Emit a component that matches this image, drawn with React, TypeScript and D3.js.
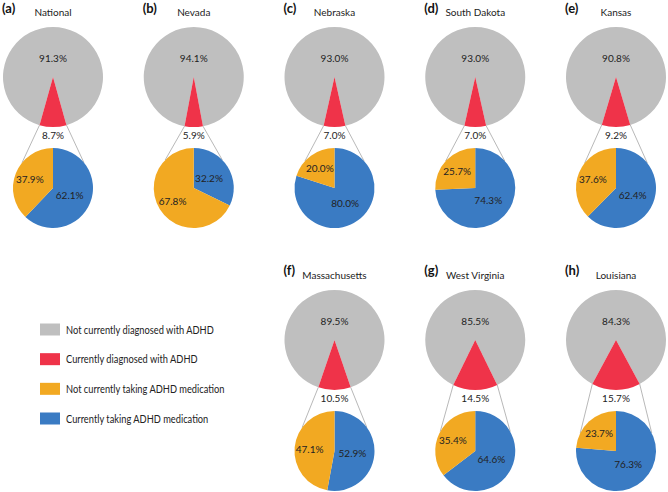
import React from "react";
import * as d3 from "d3";

const letters = ["(a)", "(b)", "(c)", "(d)", "(e)", "(f)", "(g)", "(h)"];
const regions = ["National", "Nevada", "Nebraska", "South Dakota", "Kansas", "Massachusetts", "West Virginia", "Louisiana"];
const notDiagnosed = [91.3, 94.1, 93.0, 93.0, 90.8, 89.5, 85.5, 84.3];
const diagnosed = [8.7, 5.9, 7.0, 7.0, 9.2, 10.5, 14.5, 15.7];
const notMedicated = [37.9, 67.8, 20.0, 25.7, 37.6, 47.1, 35.4, 23.7];
const medicated = [62.1, 32.2, 80.0, 74.3, 62.4, 52.9, 64.6, 76.3];
const gridCol = [0, 1, 2, 3, 4, 2, 3, 4];
const gridRow = [0, 0, 0, 0, 0, 1, 1, 1];
const legendLabels = [
  "Not currently diagnosed with ADHD",
  "Currently diagnosed with ADHD",
  "Not currently taking ADHD medication",
  "Currently taking ADHD medication",
];

const COLORS = ["#BFBFBF", "#EF3349", "#F2A922", "#3A7BC3"];
const FONT = "Lato, 'Open Sans', sans-serif";

const W = 668;
const H = 492;
const R = 50;
const r = 40;

const xCol = d3.scaleLinear().domain([0, 4]).range([53, 616]);
const yRow = d3.scaleLinear().domain([0, 1]).range([77, 340]);
const SMALL_DY = 111;

function Panel({ i }: { i: number }) {
  const cx = xCol(gridCol[i]);
  const cy = yRow(gridRow[i]);
  const sy = cy + SMALL_DY;
  const total = notDiagnosed[i] + diagnosed[i];
  const p = diagnosed[i] / total;
  const half = p * Math.PI;

  const bigArc = d3.arc<any>().innerRadius(0).outerRadius(R);
  const smallArc = d3.arc<any>().innerRadius(0).outerRadius(r);

  const redStart = Math.PI - half;
  const redEnd = Math.PI + half;

  const medFrac = medicated[i] / (medicated[i] + notMedicated[i]);
  const blueEnd = medFrac * 2 * Math.PI;

  const conn = (sign: number) => {
    const a0 = Math.PI + sign * half;
    const x0 = cx + R * Math.sin(a0);
    const y0 = cy - R * Math.cos(a0);
    const a1 = sign * -((35 * Math.PI) / 180 + half);
    const x1 = cx + r * Math.sin(a1);
    const y1 = sy - r * Math.cos(a1);
    return { x0, y0, x1, y1 };
  };
  const lines = [conn(-1), conn(1)];

  const blueMid = blueEnd / 2;
  const orangeMid = (blueEnd + 2 * Math.PI) / 2;
  const blR = 18;
  const orR = 25;
  const fs = 10;

  return (
    <g>
      <text x={cx - 51} y={gridRow[i] === 0 ? 8 : 270} fontFamily={FONT} fontWeight="bold" fontSize={13} dominantBaseline="central" fill="#111">
        {letters[i]}
      </text>
      <text x={cx} y={cy - 65} fontFamily={FONT} fontSize={10} textAnchor="middle" dominantBaseline="central" fill="#222">
        {regions[i]}
      </text>
      <g transform={`translate(${cx},${cy})`}>
        <path d={bigArc({ startAngle: redEnd, endAngle: redStart + 2 * Math.PI }) as string} fill={COLORS[0]} />
        <path d={bigArc({ startAngle: redStart, endAngle: redEnd }) as string} fill={COLORS[1]} />
      </g>
      {lines.map((l, k) => (
        <line key={k} x1={l.x0} y1={l.y0} x2={l.x1} y2={l.y1} stroke="#A6A6A6" strokeWidth={0.8} />
      ))}
      <g transform={`translate(${cx},${sy})`}>
        <path d={smallArc({ startAngle: 0, endAngle: blueEnd }) as string} fill={COLORS[3]} />
        <path d={smallArc({ startAngle: blueEnd, endAngle: 2 * Math.PI }) as string} fill={COLORS[2]} />
      </g>
      <text x={cx} y={cy - 19} fontFamily={FONT} fontSize={fs} textAnchor="middle" dominantBaseline="central" fill="#222">
        {notDiagnosed[i].toFixed(1)}%
      </text>
      <text x={cx} y={cy + 58} fontFamily={FONT} fontSize={fs} textAnchor="middle" dominantBaseline="central" fill="#222">
        {diagnosed[i].toFixed(1)}%
      </text>
      <text x={cx + blR * Math.sin(blueMid)} y={sy - blR * Math.cos(blueMid)} fontFamily={FONT} fontSize={fs} textAnchor="middle" dominantBaseline="central" fill="#222">
        {medicated[i].toFixed(1)}%
      </text>
      <text x={cx + orR * Math.sin(orangeMid)} y={sy - orR * Math.cos(orangeMid)} fontFamily={FONT} fontSize={fs} textAnchor="middle" dominantBaseline="central" fill="#222">
        {notMedicated[i].toFixed(1)}%
      </text>
    </g>
  );
}

export default function App() {
  const legendY = d3.scaleLinear().domain([0, 3]).range([329.5, 418.5]);
  return (
    <svg width={W} height={H} style={{ position: "absolute", left: 0, top: 0, background: "#fff" }}>
      <rect width={W} height={H} fill="#fff" />
      {regions.map((_, i) => (
        <Panel key={i} i={i} />
      ))}
      {legendLabels.map((lab, k) => (
        <g key={k}>
          <rect x={40} y={legendY(k) - 6} width={20} height={12} fill={COLORS[k]} />
          <g transform={`translate(66,${legendY(k)}) scale(0.885,1)`}>
            <text x={0} y={0} fontFamily={FONT} fontSize={10.5} dominantBaseline="central" fill="#222">
              {lab}
            </text>
          </g>
        </g>
      ))}
    </svg>
  );
}
